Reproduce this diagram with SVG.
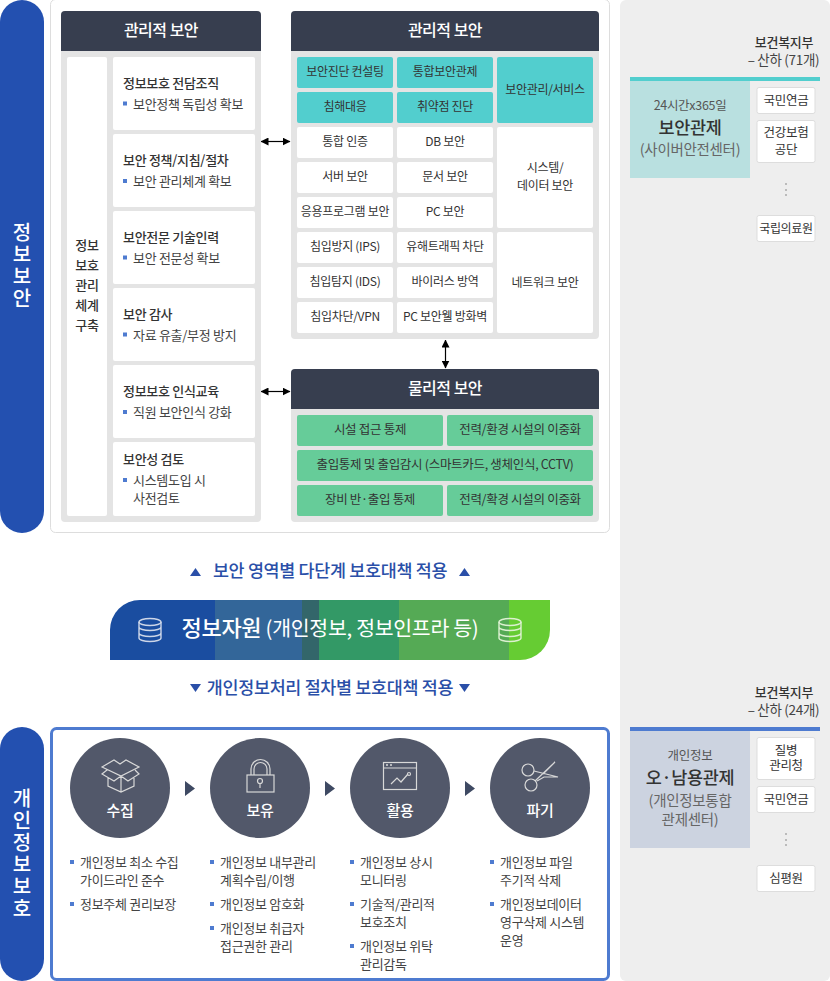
<svg xmlns="http://www.w3.org/2000/svg" width="830" height="981" viewBox="0 0 830 981">
<style>
text{font-family:"Noto Sans CJK KR","Noto Sans",sans-serif;text-anchor:middle;fill:#333;font-size:12px;letter-spacing:-.3px}
.l{text-anchor:start}
.b{font-weight:500;font-size:13px}
.h{fill:#fff;font-size:16px;font-weight:500;letter-spacing:-.5px}
.w{fill:#fff;stroke:none}
.p{fill:#e4e4e4}
.d{fill:#373e4f}
.t{fill:#52cece}
.g{fill:#66cc99}
.bl{fill:#4e7bd0}
.side{fill:#fff;font-size:20px;font-weight:500;writing-mode:vertical-rl;text-orientation:upright;text-anchor:start;letter-spacing:2px}
.blue{fill:#2a4fa8;font-size:17.400px;font-weight:500}
.phy{font-size:12.500px}
.org{fill:#fff;stroke:#ddd;stroke-width:1}
.c{fill:#52586a}
.ic{fill:none;stroke:#d8d8d8;stroke-width:1.2}
.ct{fill:#fff;font-size:15px;font-weight:500}
.lst{font-size:13px;fill:#444}
.line{stroke:#000;stroke-width:1.2;fill:none;marker-start:url(#a);marker-end:url(#a)}
.sub{font-size:13.500px;fill:#444}
.big{font-size:17.500px;font-weight:500}
.org-t{font-size:12.500px}
.note{font-size:12.500px;fill:#555}
.par{font-size:14.500px;fill:#666}
</style>
<defs>
<marker id="a" viewBox="0 0 8 8" refX="7.500" refY="4" markerWidth="8" markerHeight="8" markerUnits="userSpaceOnUse" orient="auto-start-reverse"><path d="M0 0L8 4L0 8Z" fill="#000"/></marker>
<g id="db" fill="none" stroke-width="1.400"><ellipse cx="0" cy="-8" rx="11" ry="3.500"/><path d="M-11-8V8C-11 10-6 11.500 0 11.500S11 10 11 8V-8M-11-3C-11-1-6 .5 0 .5S11-1 11-3M-11 3C-11 5-6 6.500 0 6.500S11 5 11 3"/></g>
</defs>
<rect width="830" height="981" fill="#fff"/>
<rect x="620" y="0" width="210" height="981" rx="6" fill="#eee"/>
<g id="side-security"><rect x="0" y="0" width="44" height="533" rx="22" fill="#2350b0"/><text class="side" x="22" y="222">정보보안</text></g>
<g id="side-privacy"><rect x="0" y="727" width="44" height="254" rx="22" fill="#2350b0"/><text class="side" x="22" y="788">개인정보보호</text></g>
<rect x="50.500" y="-.5" width="559" height="533" rx="5" fill="#fff" stroke="#ddd"/>
<g id="admin-left">
<rect class="p" x="61" y="11" width="200" height="511" rx="4"/><path class="d" d="M61 51V15a4 4 0 0 1 4-4H257a4 4 0 0 1 4 4V51Z"/><text class="h" x="161" y="36">관리적 보안</text>
<rect class="w" x="67" y="57" width="40" height="459" rx="2"/>
<text class="b"><tspan x="87" y="250">정보</tspan><tspan x="87" y="270">보호</tspan><tspan x="87" y="290">관리</tspan><tspan x="87" y="310">체계</tspan><tspan x="87" y="330">구축</tspan></text>
<rect class="w" x="113" y="57" width="142" height="73" rx="2"/><text class="l b" x="123" y="88">정보보호 전담조직</text><rect class="bl" x="123" y="101.500" width="4" height="4"/><text class="l lst" x="133" y="109">보안정책 독립성 확보</text>
<rect class="w" x="113" y="134" width="142" height="73" rx="2"/><text class="l b" x="123" y="165">보안 정책/지침/절차</text><rect class="bl" x="123" y="179" width="4" height="4"/><text class="l lst" x="133" y="186">보안 관리체계 확보</text>
<rect class="w" x="113" y="211" width="142" height="73" rx="2"/><text class="l b" x="123" y="242">보안전문 기술인력</text><rect class="bl" x="123" y="255.500" width="4" height="4"/><text class="l lst" x="133" y="263">보안 전문성 확보</text>
<rect class="w" x="113" y="288" width="142" height="73" rx="2"/><text class="l b" x="123" y="319">보안 감사</text><rect class="bl" x="123" y="332.500" width="4" height="4"/><text class="l lst" x="133" y="340">자료 유출/부정 방지</text>
<rect class="w" x="113" y="365" width="142" height="73" rx="2"/><text class="l b" x="123" y="396">정보보호 인식교육</text><rect class="bl" x="123" y="410" width="4" height="4"/><text class="l lst" x="133" y="417">직원 보안인식 강화</text>
<rect class="w" x="113" y="442" width="142" height="74" rx="2"/><text class="l b" x="123" y="464">보안성 검토</text><rect class="bl" x="123" y="478" width="4" height="4"/><text class="l lst" x="133" y="485">시스템도입 시</text><text class="l lst" x="133" y="503">사전검토</text>
</g>
<g id="admin-right">
<rect class="p" x="291" y="11" width="308" height="328" rx="4"/><path class="d" d="M291 51V15a4 4 0 0 1 4-4H595a4 4 0 0 1 4 4V51Z"/><text class="h" x="445" y="36">관리적 보안</text>
<rect class="t" x="297" y="57" width="96" height="31" rx="2"/><text x="345" y="76">보안진단 컨설팅</text>
<rect class="t" x="397" y="57" width="96" height="31" rx="2"/><text x="445" y="76">통합보안관제</text>
<rect class="t" x="297" y="92" width="96" height="31" rx="2"/><text x="345" y="111">침해대응</text>
<rect class="t" x="397" y="92" width="96" height="31" rx="2"/><text x="445" y="111">취약점 진단</text>
<rect class="t" x="497" y="57" width="96" height="66" rx="2"/><text x="545" y="94">보안관리/서비스</text>
<rect class="w" x="297" y="127" width="96" height="31" rx="2"/><text x="345" y="146">통합 인증</text>
<rect class="w" x="397" y="127" width="96" height="31" rx="2"/><text x="445" y="146">DB 보안</text>
<rect class="w" x="297" y="162" width="96" height="31" rx="2"/><text x="345" y="181">서버 보안</text>
<rect class="w" x="397" y="162" width="96" height="31" rx="2"/><text x="445" y="181">문서 보안</text>
<rect class="w" x="297" y="197" width="96" height="31" rx="2"/><text x="345" y="216">응용프로그램 보안</text>
<rect class="w" x="397" y="197" width="96" height="31" rx="2"/><text x="445" y="216">PC 보안</text>
<rect class="w" x="497" y="127" width="96" height="101" rx="2"/><text x="545" y="172">시스템/</text><text x="545" y="190">데이터 보안</text>
<rect class="w" x="297" y="232" width="96" height="31" rx="2"/><text x="345" y="251">침입방지 (IPS)</text>
<rect class="w" x="397" y="232" width="96" height="31" rx="2"/><text x="445" y="251">유해트래픽 차단</text>
<rect class="w" x="297" y="267" width="96" height="31" rx="2"/><text x="345" y="286">침입탐지 (IDS)</text>
<rect class="w" x="397" y="267" width="96" height="31" rx="2"/><text x="445" y="286">바이러스 방역</text>
<rect class="w" x="297" y="302" width="96" height="31" rx="2"/><text x="345" y="321">침입차단/VPN</text>
<rect class="w" x="397" y="302" width="96" height="31" rx="2"/><text x="445" y="321">PC 보안웰 방화벽</text>
<rect class="w" x="497" y="232" width="96" height="101" rx="2"/><text x="545" y="287">네트워크 보안</text>
</g>
<g id="physical">
<rect class="p" x="291" y="369" width="308" height="153" rx="4"/><path class="d" d="M291 409V373a4 4 0 0 1 4-4H595a4 4 0 0 1 4 4V409Z"/><text class="h" x="445" y="394">물리적 보안</text>
<rect class="g" x="297" y="415" width="146" height="31" rx="2"/><text class="phy" x="370" y="434">시설 접근 통제</text>
<rect class="g" x="447" y="415" width="146" height="31" rx="2"/><text class="phy" x="520" y="434">전력/환경 시설의 이중화</text>
<rect class="g" x="297" y="450" width="296" height="31" rx="2"/><text class="phy" x="445" y="469">출입통제 및 출입감시 (스마트카드, 생체인식, CCTV)</text>
<rect class="g" x="297" y="485" width="146" height="31" rx="2"/><text class="phy" x="370" y="504">장비 반·출입 통제</text>
<rect class="g" x="447" y="485" width="146" height="31" rx="2"/><text class="phy" x="520" y="504">전력/확경 시설의 이중화</text>
</g>
<g id="connectors">
<path class="line" d="M261 141.500H290"/><path class="line" d="M261 391.500H290"/><path class="line" d="M445.500 340V368"/>
</g>
<g id="upper-label"><path fill="#2a4fa8" d="M195.500 568l5.500 8h-11zM464.500 568l5.500 8h-11zM195.500 692l5.500-8h-11zM464.500 692l5.500-8h-11z"/><text class="blue" x="330" y="577">보안 영역별 다단계 보호대책 적용</text><text class="blue" x="330" y="694">개인정보처리 절차별 보호대책 적용</text></g>
<g id="resource">
<path fill="#1a4da0" d="M110 660V630a30 30 0 0 1 30-30H215V660Z"/>
<rect x="215" y="600" width="87" height="60" fill="#336699"/><rect x="302" y="600" width="17" height="60" fill="#33666a"/><rect x="319" y="600" width="80" height="60" fill="#339966"/><rect x="399" y="600" width="110" height="60" fill="#55aa55"/>
<path fill="#66cc33" d="M509 600H550V630a30 30 0 0 1-30 30H509Z"/>
<use href="#db" x="150" y="630" stroke="#cdd6e8"/><use href="#db" x="510" y="630" stroke="#dcf0d0"/>
<text x="330" y="636" style="fill:#fff;font-size:20.500px"><tspan style="font-weight:500;font-size:22px;fill:#fff">정보자원</tspan><tspan style="fill:#fff"> (개인정보, 정보인프라 등)</tspan></text>
</g>
<rect x="51.500" y="728.500" width="557" height="251" rx="5" fill="#fff" stroke="#4e7bd0" stroke-width="3"/>
<g id="collect"><circle class="c" cx="120" cy="788" r="50"/>
<g class="ic"><path d="M102 767l12-7 6 4 6-4 13 7-18 9zM107 770l-5 4 12 7 7-5M135 770l4 4-11 7-7-5M108 778v8l13 6 13-6v-8M121 776v16"/></g>
<text class="ct" x="120" y="816">수집</text>
<rect class="bl" x="70" y="860" width="4" height="4"/><text class="l lst" x="80" y="867">개인정보 최소 수집</text><text class="l lst" x="80" y="885">가이드라인 준수</text><rect class="bl" x="70" y="902" width="4" height="4"/><text class="l lst" x="80" y="909">정보주체 권리보장</text></g>
<g id="hold"><circle class="c" cx="260" cy="788" r="50"/>
<g class="ic"><rect x="247" y="775" width="27" height="17"/><path d="M251 775V769a9 9 0 0 1 19 0V775M254 775V769a6 6 0 0 1 13 0V775"/><circle cx="260" cy="781" r="2.500"/><path d="M260 784v4"/></g>
<text class="ct" x="260" y="816">보유</text>
<rect class="bl" x="210" y="860" width="4" height="4"/><text class="l lst" x="220" y="867">개인정보 내부관리</text><text class="l lst" x="220" y="885">계획수립/이행</text><rect class="bl" x="210" y="902" width="4" height="4"/><text class="l lst" x="220" y="909">개인정보 암호화</text><rect class="bl" x="210" y="926" width="4" height="4"/><text class="l lst" x="220" y="933">개인정보 취급자</text><text class="l lst" x="220" y="951">접근권한 관리</text></g>
<g id="use"><circle class="c" cx="400" cy="788" r="50"/>
<g class="ic"><rect x="383.500" y="762.500" width="33" height="27"/><path d="M383 768H417M391 784l6-6 4 4 7-8"/><circle cx="409" cy="774" r="1.500"/></g><circle cx="387" cy="765" r="1" fill="#d8d8d8"/><circle cx="391" cy="765" r="1" fill="#d8d8d8"/>
<text class="ct" x="400" y="816">활용</text>
<rect class="bl" x="350" y="860" width="4" height="4"/><text class="l lst" x="360" y="867">개인정보 상시</text><text class="l lst" x="360" y="885">모니터링</text><rect class="bl" x="350" y="902" width="4" height="4"/><text class="l lst" x="360" y="909">기술적/관리적</text><text class="l lst" x="360" y="927">보호조치</text><rect class="bl" x="350" y="944" width="4" height="4"/><text class="l lst" x="360" y="951">개인정보 위탁</text><text class="l lst" x="360" y="969">관리감독</text></g>
<g id="destroy"><circle class="c" cx="540" cy="788" r="50"/>
<g class="ic"><circle cx="528" cy="770" r="6"/><circle cx="531" cy="785" r="6"/><path d="M534 771L558 777 544 777 537 781M535 781L555 762 543 774"/></g>
<text class="ct" x="540" y="816">파기</text>
<rect class="bl" x="490" y="860" width="4" height="4"/><text class="l lst" x="500" y="867">개인정보 파일</text><text class="l lst" x="500" y="885">주기적 삭제</text><rect class="bl" x="490" y="902" width="4" height="4"/><text class="l lst" x="500" y="909">개인정보데이터</text><text class="l lst" x="500" y="927">영구삭제 시스템</text><text class="l lst" x="500" y="945">운영</text></g>
<path fill="#3f4a63" d="M185 781l10 7.500-10 7.500zM325 781l10 7.500-10 7.500zM465 781l10 7.500-10 7.500z"/>
<g id="mohw1"><text class="b" x="784" y="47">보건복지부</text><text class="sub" x="783.500" y="65">– 산하 (71개)</text>
<rect x="630" y="77" width="190" height="4" fill="#52cece"/><rect x="630" y="81" width="120" height="97" fill="#b9e0e0"/>
<text class="note" x="690" y="110">24시간x365일</text><text class="big" x="690" y="134">보안관제</text><text class="par" x="690" y="155">(사이버안전센터)</text>
<rect class="org" x="757" y="87.500" width="58" height="26" rx="2"/><text class="org-t" x="786" y="105">국민연금</text>
<rect class="org" x="757" y="120.500" width="58" height="42" rx="2"/><text class="org-t" x="786" y="137">건강보험</text><text class="org-t" x="786" y="154">공단</text>
<path d="M786 183v2M786 189v2M786 194v2" stroke="#aaa" stroke-width="1.500"/>
<rect class="org" x="757" y="215.500" width="58" height="26" rx="2"/><text x="786" y="233">국립의료원</text></g>
<g id="mohw2"><text class="b" x="784" y="697">보건복지부</text><text class="sub" x="783.500" y="715">– 산하 (24개)</text>
<rect x="630" y="727" width="190" height="4" fill="#4e7bd0"/><rect x="630" y="731" width="120" height="117" fill="#ccd3e0"/>
<text class="note" x="690" y="760">개인정보</text><text class="big" x="690" y="784">오·남용관제</text><text class="par" x="690" y="806">(개인정보통합</text><text class="par" x="690" y="825">관제센터)</text>
<rect class="org" x="757" y="737.500" width="58" height="42" rx="2"/><text class="org-t" x="786" y="755">질병</text><text class="org-t" x="786" y="770">관리청</text>
<rect class="org" x="757" y="786.500" width="58" height="26" rx="2"/><text class="org-t" x="786" y="804">국민연금</text>
<path d="M786 833v2M786 839v2M786 844v2" stroke="#aaa" stroke-width="1.500"/>
<rect class="org" x="757" y="865.500" width="58" height="26" rx="2"/><text class="org-t" x="786" y="883">심평원</text></g>
</svg>
